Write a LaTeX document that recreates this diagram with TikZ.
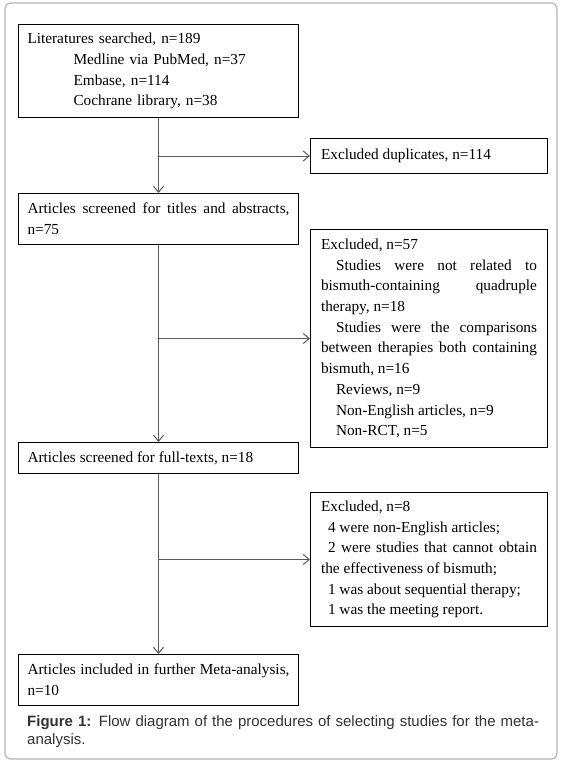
\documentclass[tikz,border=0pt]{standalone}
\usepackage{fontspec}
\setmainfont{Liberation Serif}
\newfontfamily\captionsans{Liberation Sans}
\usepackage{tikz}
\usetikzlibrary{arrows.meta, positioning}
\definecolor{framegray}{HTML}{B4B4B4}
\definecolor{linegray}{HTML}{5A5A5A}
\definecolor{captiongray}{HTML}{333333}
\tikzset{
  stage/.style={
    rectangle, draw=black, line width=1pt, fill=white,
    minimum width=280pt, text width=262pt, inner xsep=9pt, inner ysep=0pt,
    align=justify, font=\fontsize{15.3}{20.7}\selectfont,
  },
  excluded/.style={
    rectangle, draw=black, line width=1pt, fill=white,
    minimum width=237pt, text width=216pt, inner xsep=10.5pt, inner ysep=0pt,
    align=justify, font=\fontsize{15.3}{20.7}\selectfont,
  },
  caption/.style={
    inner sep=0pt, text width=515pt, align=left, color=captiongray,
    font=\captionsans\fontsize{15}{18}\selectfont,
  },
  arrow/.style={-{Straight Barb[length=6pt, width=10pt]}, line width=1pt, color=linegray},
}

\begin{document}
\begin{tikzpicture}[x=1pt, y=-1pt]

  \useasboundingbox (0,0) rectangle (560,766);
  \draw[framegray, line width=1.2pt, fill=white, rounded corners=6pt] (5,3) rectangle (557,759);

  \node[stage, anchor=north west, minimum height=93pt, align=left] (search) at (18,24)
    {Literatures searched, n=189\\
     \hspace*{46pt}Medline via PubMed, n=37\\
     \hspace*{46pt}Embase, n=114\\
     \hspace*{46pt}Cochrane library, n=38};
  \node[stage, below=75pt of search, minimum height=51pt] (screen)
    {Articles screened for titles and abstracts,\linebreak n=75};
  \node[stage, below=197pt of screen, minimum height=31pt] (fulltext)
    {Articles screened for full-texts, n=18};
  \node[stage, below=180pt of fulltext, minimum height=51pt] (included)
    {Articles included in further Meta-analysis,\linebreak n=10};

  \node[excluded, anchor=north west, minimum height=35pt] (dup) at (310,138)
    {Excluded duplicates, n=114};
  \node[excluded, anchor=north west, minimum height=218pt] (excl57) at (310,229)
    {Excluded, n=57\\
     \hspace*{15pt}Studies were not related to\linebreak bismuth-containing quadruple\linebreak therapy, n=18\\
     \hspace*{15pt}Studies were the comparisons\linebreak between therapies both containing\linebreak bismuth, n=16\\
     \hspace*{15pt}Reviews, n=9\\
     \hspace*{15pt}Non-English articles, n=9\\
     \hspace*{15pt}Non-RCT, n=5};
  \node[excluded, anchor=north west, minimum height=134pt] (excl8) at (310,492)
    {Excluded, n=8\\
     \hspace*{7pt}4 were non-English articles;\\
     \hspace*{7pt}2 were studies that cannot obtain\linebreak the effectiveness of bismuth;\\
     \hspace*{7pt}1 was about sequential therapy;\\
     \hspace*{7pt}1 was the meeting report.};

  \draw[arrow] (search) -- (screen);
  \draw[arrow] (search.south |- dup.west) -- (dup.west);
  \draw[arrow] (screen) -- (fulltext);
  \draw[arrow] (screen.south |- excl57.west) -- (excl57.west);
  \draw[arrow] (fulltext) -- (included);
  \draw[arrow] (fulltext.south |- excl8.west) -- (excl8.west);

  \node[caption, anchor=north west] (cap) at (27,715)
    {\textbf{Figure 1:} Flow diagram of the procedures of selecting studies for the meta-\\analysis.};

\end{tikzpicture}
\end{document}
